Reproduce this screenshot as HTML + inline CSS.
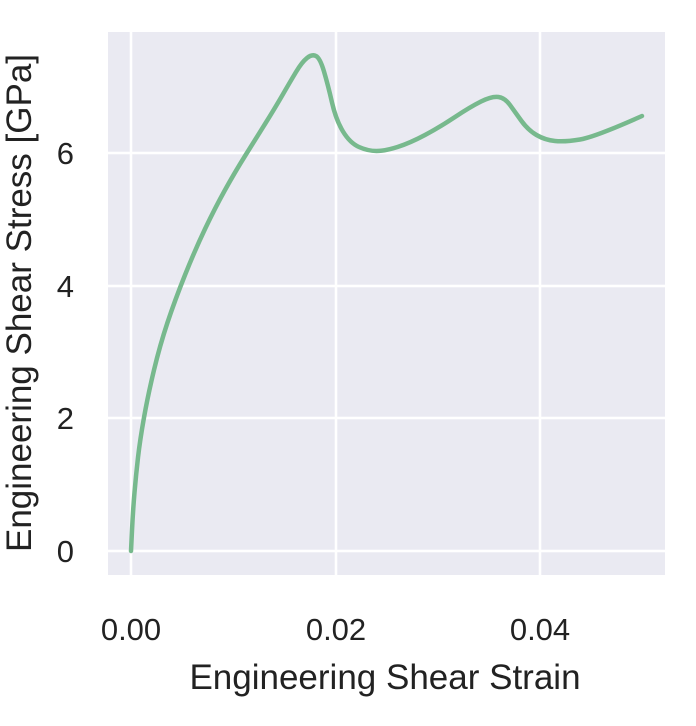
<!DOCTYPE html>
<html><head><meta charset="utf-8"><style>
html,body{margin:0;padding:0;background:#fff;}
svg{display:block;font-family:"Liberation Sans",sans-serif;}
</style></head><body>
<svg width="696" height="726" viewBox="0 0 696 726">
<rect x="108" y="32" width="557" height="543" fill="#eaeaf2"/>
<g stroke="#fff" stroke-width="2.5">
<line x1="131" y1="32" x2="131" y2="575"/>
<line x1="336" y1="32" x2="336" y2="575"/>
<line x1="540" y1="32" x2="540" y2="575"/>
<line x1="108" y1="551" x2="665" y2="551"/>
<line x1="108" y1="418" x2="665" y2="418"/>
<line x1="108" y1="286" x2="665" y2="286"/>
<line x1="108" y1="153" x2="665" y2="153"/>
</g>
<path fill="none" stroke="#77b98d" stroke-width="4.5" stroke-linejoin="round" stroke-linecap="round"
d="M131,551 L132,530.5 Q133,510 134.5,492.5 Q136,475 138,457.5 Q140,440 144,417.5 Q148,395 154,370 Q160,345 167.5,322.5 Q175,300 185,275 Q195,250 205,229 Q215,208 225,190 Q235,172 245,156 Q255,140 265,124 Q275,108 282.5,95 Q290,82 296,72 Q302,62 307,58 Q312,54 316,56 Q320,58 324,71.5 Q328,85 332,102.5 Q336,120 343,131.5 Q350,143 359,147 Q368,151 376.5,151 Q385,151 397.5,147 Q410,143 425,135 Q440,127 455,117 Q470,107 481,101.5 Q492,96 498.5,97 Q505,98 510,105 Q515,112 521.5,121 Q528,130 536.5,135 Q545,140 555,141 Q565,142 580,139.5 Q595,137 642,116"/>
<g font-size="31" fill="#222" text-anchor="middle">
<text x="131" y="640">0.00</text>
<text x="336" y="640">0.02</text>
<text x="540" y="640">0.04</text>
<text x="74" y="562" text-anchor="end">0</text>
<text x="74" y="429" text-anchor="end">2</text>
<text x="74" y="297" text-anchor="end">4</text>
<text x="74" y="164" text-anchor="end">6</text>
<text x="385" y="689" font-size="35">Engineering Shear Strain</text>
<text transform="translate(31,303) rotate(-90)" font-size="35">Engineering Shear Stress [GPa]</text>
</g>
</svg>
</body></html>
